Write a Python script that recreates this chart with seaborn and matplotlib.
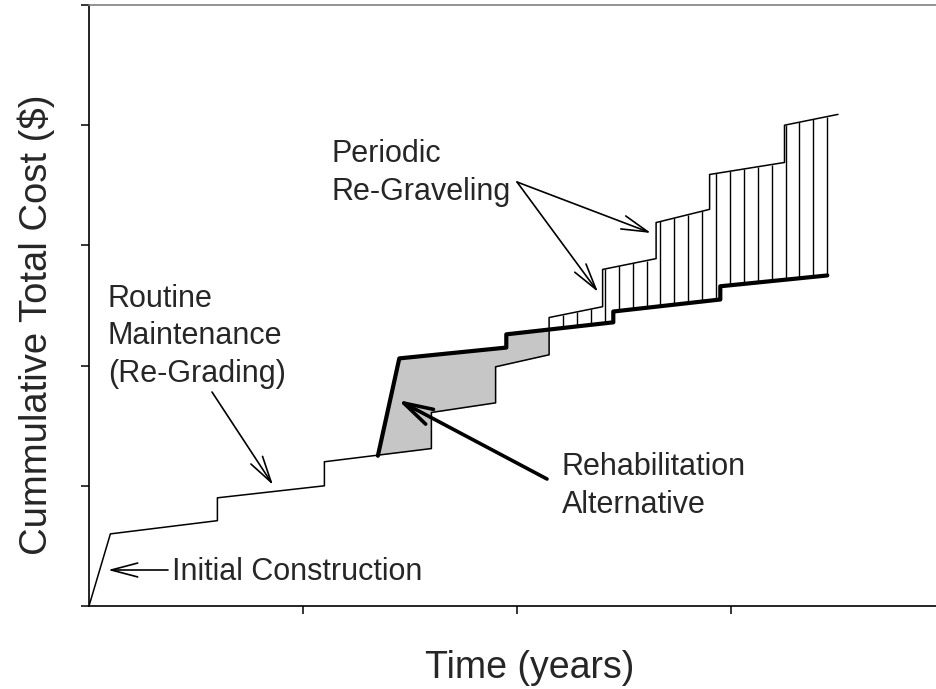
import numpy as np
import matplotlib.pyplot as plt
import seaborn as sns

# cumulative cost of the "do nothing" path: routine re-grading + periodic re-graveling
base_years = [0, 1, 6, 6, 11, 11, 16, 16, 19, 19, 21.5, 21.5, 24, 24,
              26.5, 26.5, 29, 29, 32.5, 32.5, 35]
base_cost = [0, 0.60, 0.71, 0.90, 1.00, 1.20, 1.31, 1.61, 1.69, 1.99, 2.09,
             2.40, 2.49, 2.80, 2.89, 3.19, 3.30, 3.59, 3.69, 4.00, 4.09]

# cumulative cost of the rehabilitation alternative
rehab_years = [13.5, 14.5, 19.5, 19.5, 24.5, 24.5, 29.5, 29.5, 34.5]
rehab_cost = [1.25, 2.06, 2.15, 2.26, 2.36, 2.45, 2.55, 2.66, 2.75]

x_ticks = [10, 20, 30]
y_ticks = [0, 1, 2, 3, 4, 5]

sns.set_style("ticks")
plt.rcParams['font.family'] = ['Liberation Sans', 'DejaVu Sans']

W, H = 937, 689
fig = plt.figure(figsize=(W / 100, H / 100), dpi=100)
ax = fig.add_axes([89 / W, 83 / H, 848 / W, 601 / H])
ax.set_xlim(0, 848 / 21.4)
ax.set_ylim(0, 5)


def px(x, y):
    # reference pixel position -> data coords (used only for labels / arrows)
    return (x - 89) / 21.4, (606 - y) / 120.2


# shaded areas between the two alternatives
xg = np.linspace(rehab_years[0], rehab_years[-1], 4000)
bg = np.interp(xg, base_years, base_cost)
rg = np.interp(xg, rehab_years, rehab_cost)
ax.fill_between(xg, bg, rg, where=rg > bg, color='#c6c6c6', lw=0, zorder=1)

x_cross = xg[np.argmax((bg > rg) & (xg > rehab_years[1]))]
hx = np.linspace(x_cross, rehab_years[-1], 21)[1:]
ax.vlines(hx, np.interp(hx, rehab_years, rehab_cost), np.interp(hx, base_years, base_cost),
          color='black', lw=1.0, zorder=2)

sns.lineplot(x=base_years, y=base_cost, sort=False, estimator=None, color='black',
             lw=1.1, ax=ax, zorder=3)
sns.lineplot(x=rehab_years, y=rehab_cost, sort=False, estimator=None, color='black',
             lw=3.0, ax=ax, zorder=4)

ax.set_xticks(x_ticks)
ax.set_yticks(y_ticks)
ax.set_xticklabels([])
ax.set_yticklabels([])
ax.tick_params(length=6, width=1.1, color='black', direction='out')
ax.spines['right'].set_visible(False)
ax.spines['left'].set_color('black')
ax.spines['bottom'].set_color('black')
ax.spines['top'].set_color('#808080')
for s in ['left', 'bottom', 'top']:
    ax.spines[s].set_linewidth(1.2)

fs = 22
ls = 1.33
thin = dict(arrowstyle='->,head_length=0.95,head_width=0.25', lw=1.2, color='black',
            shrinkA=0, shrinkB=0, mutation_scale=20)
thick = dict(arrowstyle='->,head_length=1.05,head_width=0.3', lw=2.6, color='black',
             shrinkA=0, shrinkB=0, mutation_scale=20)

# multi-line labels are placed by the baseline of their last line
ax.text(*px(172, 580), 'Initial Construction', fontsize=fs, va='baseline')
ax.annotate('', xy=px(108, 570), xytext=px(168, 570), arrowprops=thin)

ax.text(*px(108, 382), 'Routine\nMaintenance\n(Re-Grading)', fontsize=fs, va='baseline',
        linespacing=ls)
ax.annotate('', xy=px(273, 485), xytext=px(212, 392), arrowprops=thin)

ax.text(*px(332, 200), 'Periodic\nRe-Graveling', fontsize=fs, va='baseline', linespacing=ls)
ax.annotate('', xy=px(598, 292), xytext=px(517, 182), arrowprops=thin)
ax.annotate('', xy=px(651, 233), xytext=px(517, 182), arrowprops=thin)

ax.text(*px(562, 513), 'Rehabilitation\nAlternative', fontsize=fs, va='baseline', linespacing=ls)
ax.annotate('', xy=px(398, 400), xytext=px(547, 479), arrowprops=thick)

fig.text(36 / W, 1 - 325 / H, 'Cummulative Total Cost ($)', fontsize=27.5, rotation=90,
         ha='center', va='center')
fig.text(530 / W, 11 / H, 'Time (years)', fontsize=27, ha='center', va='baseline')

fig.savefig('out.png', dpi=100)
